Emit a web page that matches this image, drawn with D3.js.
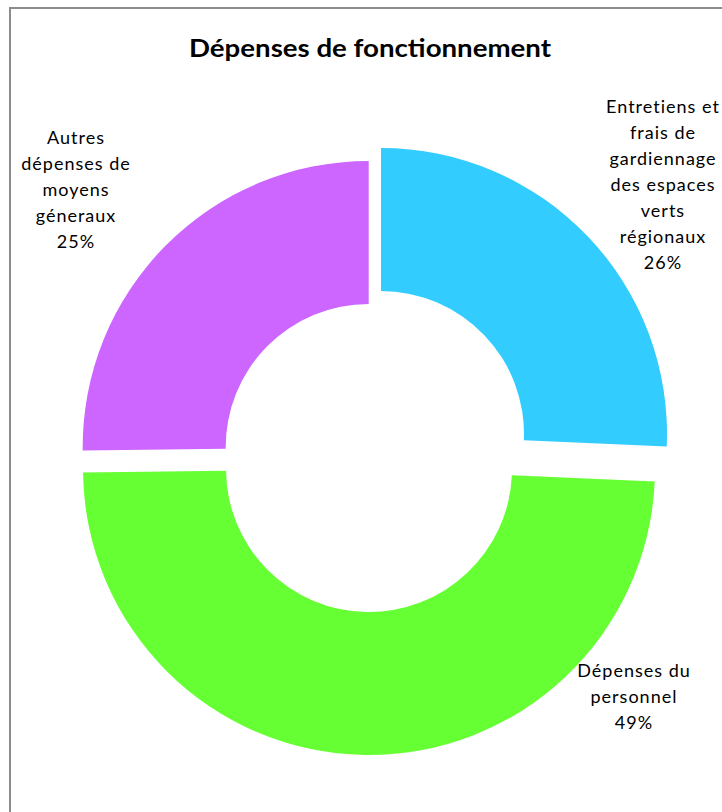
<!DOCTYPE html>
<html>
<head>
<meta charset="utf-8">
<script src="https://cdn.jsdelivr.net/npm/d3@7"></script>
<style>
  body { margin: 0; background: #fff; }
  text { font-family: Lato, "Open Sans", sans-serif; fill: #000; }
</style>
</head>
<body>
<svg id="chart" width="722" height="812"></svg>
<script>
// data
const categories = [
  "Entretiens et frais de gardiennage des espaces verts régionaux",
  "Dépenses du personnel",
  "Autres dépenses de moyens généraux"
];
const values = [25.7, 49.1, 25.2];
const pctLabels = ["26%", "49%", "25%"];
const labelLines = [
  ["Entretiens et", "frais de", "gardiennage", "des espaces", "verts", "régionaux"],
  ["Dépenses du", "personnel"],
  ["Autres", "dépenses de", "moyens", "géneraux"]
];
const colors = ["#33CCFF", "#66FF33", "#CC66FF"];

// layout
const svg = d3.select('#chart');
const cx = 375, cy = 451;
const outerR = 286, innerR = 143;
// each slice is pulled out of the ring a little (doughnut explosion)
const shift = [[6, -17], [-6, 18], [-6.3, -4]];
// label anchor (centre x, last baseline y) for each slice
const labelPos = [[663, 269], [634, 729], [76, 248]];
const lineH = 26;

// frame
svg.append('rect')
  .attr('x', 10).attr('y', 8)
  .attr('width', 760).attr('height', 850)
  .attr('fill', 'none')
  .attr('stroke', '#8c8c8c')
  .attr('stroke-width', 2);

svg.append('text')
  .attr('x', 370).attr('y', 57)
  .attr('text-anchor', 'middle')
  .attr('font-weight', 'bold')
  .attr('font-size', 25)
  .attr('textLength', 362)
  .attr('lengthAdjust', 'spacingAndGlyphs')
  .text('Dépenses de fonctionnement');

const pie = d3.pie().sort(null).value(d => d);
const arc = d3.arc().innerRadius(innerR).outerRadius(outerR);

svg.append('g')
  .selectAll('path')
  .data(pie(values))
  .join('path')
    .attr('transform', (d, i) => 'translate(' + (cx + shift[i][0]) + ',' + (cy + shift[i][1]) + ')')
    .attr('d', arc)
    .attr('fill', (d, i) => colors[i]);

// data labels
labelLines.forEach(function (lines, i) {
  const all = lines.concat([pctLabels[i]]);
  const t = svg.append('text')
    .attr('text-anchor', 'middle')
    .attr('font-size', 18)
    .attr('letter-spacing', 1);
  all.forEach(function (s, k) {
    t.append('tspan')
      .attr('x', labelPos[i][0])
      .attr('y', labelPos[i][1] - (all.length - 1 - k) * lineH)
      .text(s);
  });
});
</script>
</body>
</html>
